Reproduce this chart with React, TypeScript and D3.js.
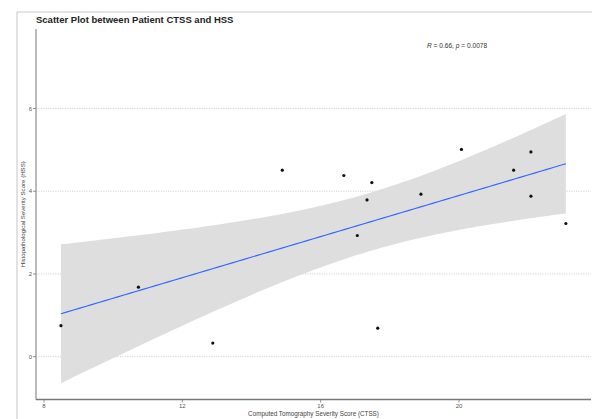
import React from "react";
import * as d3 from "d3";

// CTSS (x) and HSS (y) per patient
const ctss = [8.49, 10.73, 12.88, 14.89, 16.67, 17.48, 17.34, 17.06, 17.65, 18.9, 20.07, 21.58, 22.08, 22.08, 23.09];
const hss = [0.75, 1.68, 0.33, 4.51, 4.38, 4.21, 3.79, 2.93, 0.69, 3.93, 5.01, 4.51, 4.95, 3.88, 3.22];
const xTicks = [8, 12, 16, 20];
const yTicks = [0, 2, 4, 6];
const title = "Scatter Plot between Patient CTSS and HSS";
const xTitle = "Computed Tomography Severity Score (CTSS)";
const yTitle = "Histopathological Severity Score (HSS)";

const W = 592;
const H = 419;
const panel = { left: 36, right: 591, top: 29, bottom: 399.5 };
const font = "'Liberation Sans', Arial, Helvetica, sans-serif";

// Least-squares fit with a 95% confidence band (t, df = n - 2)
function fitLm(xs: number[], ys: number[]) {
  const n = xs.length;
  const mx = d3.mean(xs)!;
  const my = d3.mean(ys)!;
  let sxx = 0, sxy = 0;
  xs.forEach((x, i) => {
    sxx += (x - mx) ** 2;
    sxy += (x - mx) * (ys[i] - my);
  });
  const b = sxy / sxx;
  const a = my - b * mx;
  let rss = 0;
  xs.forEach((x, i) => {
    rss += (ys[i] - (a + b * x)) ** 2;
  });
  const s = Math.sqrt(rss / (n - 2));
  const t = 2.160369; // qt(0.975, 13)
  const [x0, x1] = d3.extent(xs) as [number, number];
  const pts = d3.range(0, 81).map((k) => {
    const x = x0 + ((x1 - x0) * k) / 80;
    const fit = a + b * x;
    const se = s * Math.sqrt(1 / n + (x - mx) ** 2 / sxx);
    return { x, fit, lo: fit - t * se, hi: fit + t * se };
  });
  return pts;
}

export default function App() {
  const x = d3.scaleLinear().domain([8, 20]).range([44, 459]);
  const y = d3.scaleLinear().domain([0, 6]).range([356.7, 108.5]);
  const band = fitLm(ctss, hss);

  const area = d3
    .area<{ x: number; lo: number; hi: number }>()
    .x((d) => x(d.x))
    .y0((d) => y(d.lo))
    .y1((d) => y(d.hi));
  const line = d3
    .line<{ x: number; fit: number }>()
    .x((d) => x(d.x))
    .y((d) => y(d.fit));

  return (
    <svg
      width={W}
      height={H}
      style={{ position: "absolute", left: 0, top: 0, display: "block", background: "#fff" }}
      fontFamily={font}
    >
      {/* outer frame */}
      <line x1={17} x2={W} y1={12} y2={12} stroke="#e4e4e4" strokeWidth={2} />
      <line x1={17} x2={17} y1={12} y2={H} stroke="#c4c4c4" strokeWidth={1} />

      <text x={36} y={23} fontSize={9.5} fontWeight="bold" fill="#222">
        {title}
      </text>

      {/* grid */}
      {yTicks.map((t) => (
        <line
          key={"g" + t}
          x1={panel.left}
          x2={panel.right}
          y1={y(t)}
          y2={y(t)}
          stroke="#c8c8c8"
          strokeWidth={0.8}
          strokeDasharray="1.2,1.2"
        />
      ))}

      {/* confidence band and fit */}
      <path d={area(band) || ""} fill="#dedede" />
      <path d={line(band) || ""} fill="none" stroke="#3366FF" strokeWidth={1.1} />

      {ctss.map((cx, i) => (
        <circle key={i} cx={x(cx)} cy={y(hss[i])} r={1.6} fill="#111" />
      ))}

      {/* axes */}
      <line x1={panel.left} x2={panel.left} y1={panel.top} y2={panel.bottom} stroke="#777" strokeWidth={1} />
      <line x1={panel.left} x2={panel.right} y1={panel.bottom} y2={panel.bottom} stroke="#777" strokeWidth={1.3} />

      {yTicks.map((t) => (
        <g key={"y" + t}>
          <line x1={panel.left - 3} x2={panel.left} y1={y(t)} y2={y(t)} stroke="#777" strokeWidth={0.8} />
          <text x={panel.left - 4} y={y(t)} dy="0.35em" textAnchor="end" fontSize={6} fill="#555">
            {t}
          </text>
        </g>
      ))}
      {xTicks.map((t) => (
        <g key={"x" + t}>
          <line x1={x(t)} x2={x(t)} y1={panel.bottom} y2={panel.bottom + 3} stroke="#777" strokeWidth={0.8} />
          <text x={x(t)} y={panel.bottom + 8.5} textAnchor="middle" fontSize={6} fill="#555">
            {t}
          </text>
        </g>
      ))}

      <text x={(panel.left + panel.right) / 2} y={416} textAnchor="middle" fontSize={6.3} fill="#444">
        {xTitle}
      </text>
      <text
        transform={`translate(24.5,${(panel.top + panel.bottom) / 2}) rotate(-90)`}
        textAnchor="middle"
        fontSize={6.1}
        fill="#444"
      >
        {yTitle}
      </text>

      <text x={427} y={47.5} fontSize={6.6} fill="#333">
        <tspan fontStyle="italic">R</tspan>
        <tspan> = 0.66, </tspan>
        <tspan fontStyle="italic">p</tspan>
        <tspan> = 0.0078</tspan>
      </text>
    </svg>
  );
}
